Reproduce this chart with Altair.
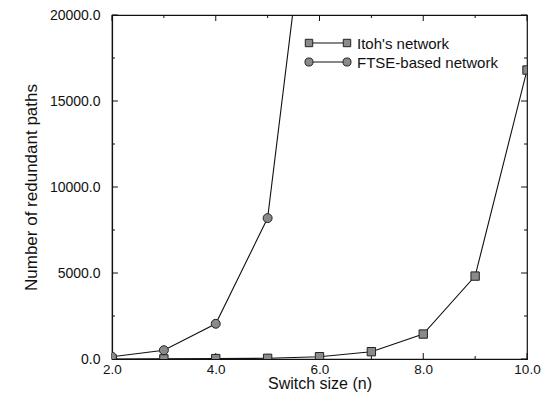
import altair as alt
import pandas as pd

# ---- data ----
n_values = [2, 3, 4, 5, 6, 7, 8, 9, 10]
itoh_paths = [2, 6, 24, 40, 135, 425, 1450, 4820, 16800]
ftse_n = [2, 3, 4, 5, 6]
ftse_paths = [128, 512, 2048, 8192, 32768]
series_names = ["Itoh's network", "FTSE-based network"]
x_tick_labels = [2, 4, 6, 8, 10]
x_minor = [3, 5, 7, 9]
y_tick_labels = [0, 5000, 10000, 15000, 20000]
y_minor = [2500, 7500, 12500, 17500]

W, H = 415, 344
FONT = "Liberation Sans"
INK = "#111111"
MARK_FILL = "#8a8a8a"

xs = alt.Scale(domain=[2, 10], nice=False, zero=False)
ys = alt.Scale(domain=[0, 20000], nice=False)

itoh_df = pd.DataFrame({"n": n_values, "paths": itoh_paths})
ftse_df = pd.DataFrame({"n": ftse_n, "paths": ftse_paths})

x_axis = alt.Axis(values=x_tick_labels, format=".1f", title="Switch size (n)",
                  ticks=False, labelPadding=3, titlePadding=0, grid=False,
                  labelFlush=False, titleFontSize=16, labelFontSize=13.5)
y_axis = alt.Axis(values=y_tick_labels, format=".1f", title="Number of redundant paths",
                  ticks=False, labelPadding=12, titlePadding=9, grid=False,
                  labelFlush=False)


def xe(field):
    return alt.X(field, scale=xs, axis=x_axis)


def ye(field):
    return alt.Y(field, scale=ys, axis=y_axis)


base_itoh = alt.Chart(itoh_df)
itoh_line = base_itoh.mark_line(color=INK, strokeWidth=1.1, clip=True).encode(
    x=xe("n:Q"), y=ye("paths:Q"))
itoh_pts = base_itoh.mark_square(size=70, fill=MARK_FILL, stroke="#222222",
                                 strokeWidth=1, opacity=1, clip=True).encode(
    x=xe("n:Q"), y=ye("paths:Q"))

base_ftse = alt.Chart(ftse_df)
ftse_line = base_ftse.mark_line(color=INK, strokeWidth=1.1, clip=True).encode(
    x=xe("n:Q"), y=ye("paths:Q"))
ftse_pts = base_ftse.mark_circle(size=80, fill=MARK_FILL, stroke="#222222",
                                 strokeWidth=1, opacity=1, clip=True).encode(
    x=xe("n:Q"), y=ye("paths:Q"))


# ---- inward ticks on all four sides ----
def yticks(vals, length):
    d = pd.DataFrame({"paths": vals})
    left = alt.Chart(d).mark_rule(color=INK, strokeWidth=1).encode(
        y=ye("paths:Q"), x=alt.value(0), x2=alt.value(length))
    right = alt.Chart(d).mark_rule(color=INK, strokeWidth=1).encode(
        y=ye("paths:Q"), x=alt.value(W - length), x2=alt.value(W))
    return [left, right]


def xticks(vals, length):
    d = pd.DataFrame({"n": vals})
    bottom = alt.Chart(d).mark_rule(color=INK, strokeWidth=1).encode(
        x=xe("n:Q"), y=alt.value(H), y2=alt.value(H - length))
    top = alt.Chart(d).mark_rule(color=INK, strokeWidth=1).encode(
        x=xe("n:Q"), y=alt.value(0), y2=alt.value(length))
    return [bottom, top]


tick_layers = (yticks(y_tick_labels, 6) + yticks(y_minor, 3)
               + xticks(x_tick_labels, 6) + xticks(x_minor, 3))


# ---- legend drawn inside the plot ----
def legend_entry(name, ypos, shape):
    d = pd.DataFrame({"label": [name]})
    c = alt.Chart(d)
    line = c.mark_rule(color=INK, strokeWidth=1.1).encode(
        x=alt.value(197), x2=alt.value(235), y=alt.value(ypos))
    if shape == "square":
        m = c.mark_square(size=55, fill=MARK_FILL, stroke="#222222", strokeWidth=1, opacity=1)
    else:
        m = c.mark_circle(size=65, fill=MARK_FILL, stroke="#222222", strokeWidth=1, opacity=1)
    m1 = m.encode(x=alt.value(197), y=alt.value(ypos))
    m2 = m.encode(x=alt.value(235), y=alt.value(ypos))
    txt = c.mark_text(align="left", baseline="middle", font=FONT, fontSize=15,
                      color=INK).encode(x=alt.value(245), y=alt.value(ypos + 1),
                                        text="label:N")
    return [line, m1, m2, txt]


legend_layers = legend_entry(series_names[0], 28, "square") + legend_entry(series_names[1], 47, "circle")

chart = alt.layer(
    itoh_line, ftse_line, *tick_layers, itoh_pts, ftse_pts, *legend_layers
).properties(
    width=W, height=H,
    autosize=alt.AutoSizeParams(type="none"),
    padding={"left": 104, "top": 7, "right": 14, "bottom": 33},
    background="white",
).configure_view(
    stroke=INK, strokeWidth=1.2
).configure_axis(
    domainColor=INK, domainWidth=1.2,
    labelFont=FONT, labelFontSize=14, labelColor=INK,
    titleFont=FONT, titleFontSize=17, titleColor=INK, titleFontWeight="normal",
)

chart.save("out.html", embed_options={"renderer": "svg", "actions": False})
